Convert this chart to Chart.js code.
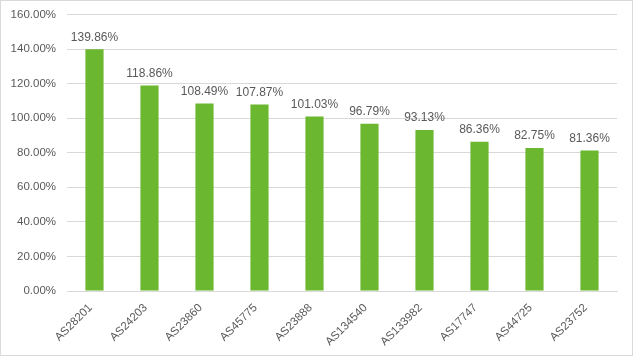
<!DOCTYPE html>
<html>
<head>
<meta charset="utf-8">
<script src="https://cdn.jsdelivr.net/npm/chart.js@4"></script>
<style>
html,body{margin:0;padding:0;background:#fff;}
canvas{display:block;}
</style>
</head>
<body>
<canvas id="c" width="633" height="356"></canvas>
<script>
const categories = ["AS28201","AS24203","AS23860","AS45775","AS23888","AS134540","AS133982","AS17747","AS44725","AS23752"];
const values = [139.86,118.86,108.49,107.87,101.03,96.79,93.13,86.36,82.75,81.36];
const yMin = 0, yMax = 160, yStep = 20;

const textColor = '#595959';
const gridColor = '#d9d9d9';
const barColor = '#6BB72F';
const fontFamily = '"Liberation Sans", Arial, sans-serif';

const borderPlugin = {
  id: 'frame',
  beforeDraw(chart) {
    const ctx = chart.ctx;
    ctx.save();
    ctx.fillStyle = '#fff';
    ctx.fillRect(0, 0, chart.width, chart.height);
    ctx.strokeStyle = gridColor;
    ctx.lineWidth = 1;
    ctx.strokeRect(0.5, 0.5, chart.width - 1, chart.height - 1);
    ctx.restore();
  }
};

const labelPlugin = {
  id: 'valueLabels',
  afterDatasetsDraw(chart) {
    const ctx = chart.ctx;
    const meta = chart.getDatasetMeta(0);
    ctx.save();
    ctx.fillStyle = textColor;
    ctx.font = '12px ' + fontFamily;
    ctx.textAlign = 'center';
    ctx.textBaseline = 'bottom';
    meta.data.forEach((bar, i) => {
      const v = chart.data.datasets[0].data[i];
      ctx.fillText(v.toFixed(2) + '%', bar.x, bar.y - 6);
    });
    ctx.restore();
  }
};

new Chart(document.getElementById('c'), {
  type: 'bar',
  data: {
    labels: categories,
    datasets: [{
      data: values,
      backgroundColor: barColor,
      borderWidth: 0,
      barPercentage: 0.33,
      categoryPercentage: 1.0
    }]
  },
  options: {
    responsive: false,
    animation: false,
    devicePixelRatio: 1,
    layout: { padding: { top: 14.5, right: 16, left: 0, bottom: 0 } },
    plugins: { legend: { display: false }, tooltip: { enabled: false } },
    scales: {
      x: {
        grid: { display: false, drawTicks: false },
        border: { display: true, color: gridColor },
        ticks: {
          color: textColor,
          font: { size: 11.5, family: fontFamily },
          maxRotation: 45, minRotation: 45,
          padding: 10,
          labelOffset: -4,
          autoSkip: false
        },
        afterFit(scale) { scale.height = 65; scale.paddingLeft = 0; scale.paddingRight = 0; }
      },
      y: {
        min: yMin, max: yMax,
        grid: { color: gridColor, drawTicks: false },
        border: { display: false },
        ticks: {
          stepSize: yStep,
          color: textColor,
          font: { size: 11.5, family: fontFamily },
          padding: 11,
          callback: v => v.toFixed(2) + '%'
        },
        afterFit(scale) { scale.width = 67; scale.paddingTop = 0; scale.paddingBottom = 0; }
      }
    }
  },
  plugins: [borderPlugin, labelPlugin]
});
</script>
</body>
</html>
